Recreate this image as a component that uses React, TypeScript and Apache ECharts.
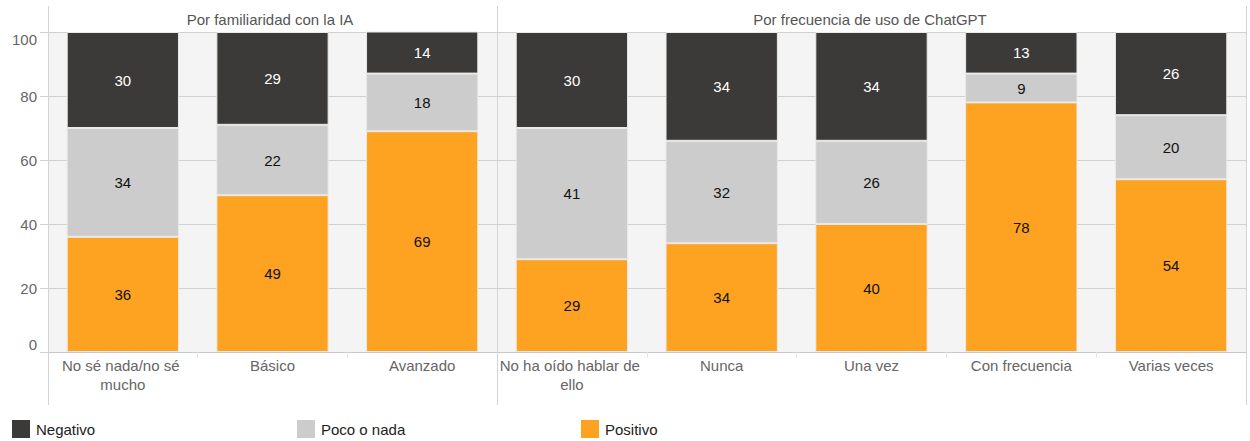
import React, { useEffect, useRef } from "react";
import * as echarts from "echarts";

const leftTitle = "Por familiaridad con la IA";
const rightTitle = "Por frecuencia de uso de ChatGPT";
const leftCategories = ["No sé nada/no sé mucho", "Básico", "Avanzado"];
const rightCategories = ["No ha oído hablar de ello", "Nunca", "Una vez", "Con frecuencia", "Varias veces"];
const seriesNames = ["Positivo", "Poco o nada", "Negativo"];
const leftPositivo = [36, 49, 69];
const leftPoco = [34, 22, 18];
const leftNegativo = [30, 29, 14];
const rightPositivo = [29, 34, 40, 78, 54];
const rightPoco = [41, 32, 26, 9, 20];
const rightNegativo = [30, 34, 34, 13, 26];
const yTicks = [0, 20, 40, 60, 80, 100];

const colors: Record<string, string> = {
  Positivo: "#fea321",
  "Poco o nada": "#cccccc",
  Negativo: "#3b3a38",
};
const labelColors: Record<string, string> = {
  Positivo: "#111",
  "Poco o nada": "#111",
  Negativo: "#fff",
};

export default function App() {
  const ref = useRef<HTMLDivElement>(null);
  useEffect(() => {
    if (!ref.current) return;
    document.body.style.margin = "0";
    document.body.style.overflow = "hidden";
    const chart = echarts.init(ref.current, null, { renderer: "svg" });
    const font = "Liberation Sans, Arial, sans-serif";
    const fs = 15;
    const mkSeries = (name: string, data: number[], idx: number) => ({
      type: "bar",
      name,
      stack: "s" + idx,
      xAxisIndex: idx,
      yAxisIndex: idx,
      data,
      barWidth: "75%",
      itemStyle: { color: colors[name], borderColor: "#e9e9e9", borderWidth: 1 },
      label: {
        show: true,
        position: "inside",
        fontSize: fs,
        fontFamily: font,
        color: labelColors[name],
      },
    });
    const xAxisBase = (cats: string[], gi: number) => ({
      type: "category",
      gridIndex: gi,
      data: cats,
      axisLine: { lineStyle: { color: "#c8c8c8" } },
      axisTick: { show: true, length: 6, lineStyle: { color: "#e6e6e6" } },
      axisLabel: {
        color: "#666",
        fontSize: fs,
        fontFamily: font,
        lineHeight: 19,
        margin: 4,
        width: 160,
        overflow: "break",
        interval: 0,
      },
    });
    const yAxisBase = (gi: number, showLabels: boolean) => ({
      type: "value",
      gridIndex: gi,
      min: 0,
      max: 100,
      interval: 20,
      axisLine: { show: false },
      axisTick: { show: showLabels, length: 8, lineStyle: { color: "#d0d0d0" } },
      splitLine: { lineStyle: { color: "#d0d0d0" } },
      axisLabel: {
        show: showLabels,
        color: "#666",
        fontSize: fs,
        fontFamily: font,
        margin: 11,
        verticalAlignMaxLabel: "top",
        verticalAlignMinLabel: "bottom",
        customValues: yTicks,
      },
    });
    const vline = (x: number, y1: number, y2: number) => ({
      type: "line",
      shape: { x1: x, y1, x2: x, y2 },
      style: { stroke: "#d4d4d4", lineWidth: 1 },
      z: 10,
    });
    const legendItem = (name: string, left: number) => ({
      left,
      top: 420,
      padding: 0,
      data: [name],
      itemWidth: 18,
      itemHeight: 18,
      icon: "rect",
      itemStyle: { borderWidth: 0 },
      textStyle: { fontSize: fs, fontFamily: font, color: "#222", padding: [0, 0, 0, 1] },
      selectedMode: false,
    });
    chart.setOption({
      animation: false,
      backgroundColor: "#fff",
      textStyle: { fontFamily: font },
      grid: [
        { left: 48, top: 32, width: 449, height: 320, show: true, backgroundColor: "#f4f4f4", borderWidth: 0, containLabel: false, outerBoundsMode: "none" },
        { left: 497, top: 32, width: 749, height: 320, show: true, backgroundColor: "#f4f4f4", borderWidth: 0, containLabel: false, outerBoundsMode: "none" },
      ],
      xAxis: [xAxisBase(leftCategories, 0), xAxisBase(rightCategories, 1)],
      yAxis: [yAxisBase(0, true), yAxisBase(1, false)],
      legend: [
        legendItem("Negativo", 12),
        legendItem("Poco o nada", 297),
        legendItem("Positivo", 581),
      ],
      series: [
        mkSeries(seriesNames[0], leftPositivo, 0),
        mkSeries(seriesNames[1], leftPoco, 0),
        mkSeries(seriesNames[2], leftNegativo, 0),
        mkSeries(seriesNames[0], rightPositivo, 1),
        mkSeries(seriesNames[1], rightPoco, 1),
        mkSeries(seriesNames[2], rightNegativo, 1),
      ],
      graphic: [
        vline(48.5, 6, 405),
        vline(497.5, 6, 405),
        vline(1246.5, 6, 405),
        {
          type: "text",
          x: 270,
          y: 19,
          style: { text: leftTitle, fontSize: fs, fontFamily: font, fill: "#555", align: "center", verticalAlign: "middle" },
        },
        {
          type: "text",
          x: 870,
          y: 19,
          style: { text: rightTitle, fontSize: fs, fontFamily: font, fill: "#555", align: "center", verticalAlign: "middle" },
        },
      ],
    });
    return () => chart.dispose();
  }, []);
  return <div ref={ref} style={{ position: "absolute", left: 0, top: 0, width: 1250, height: 441 }} />;
}
